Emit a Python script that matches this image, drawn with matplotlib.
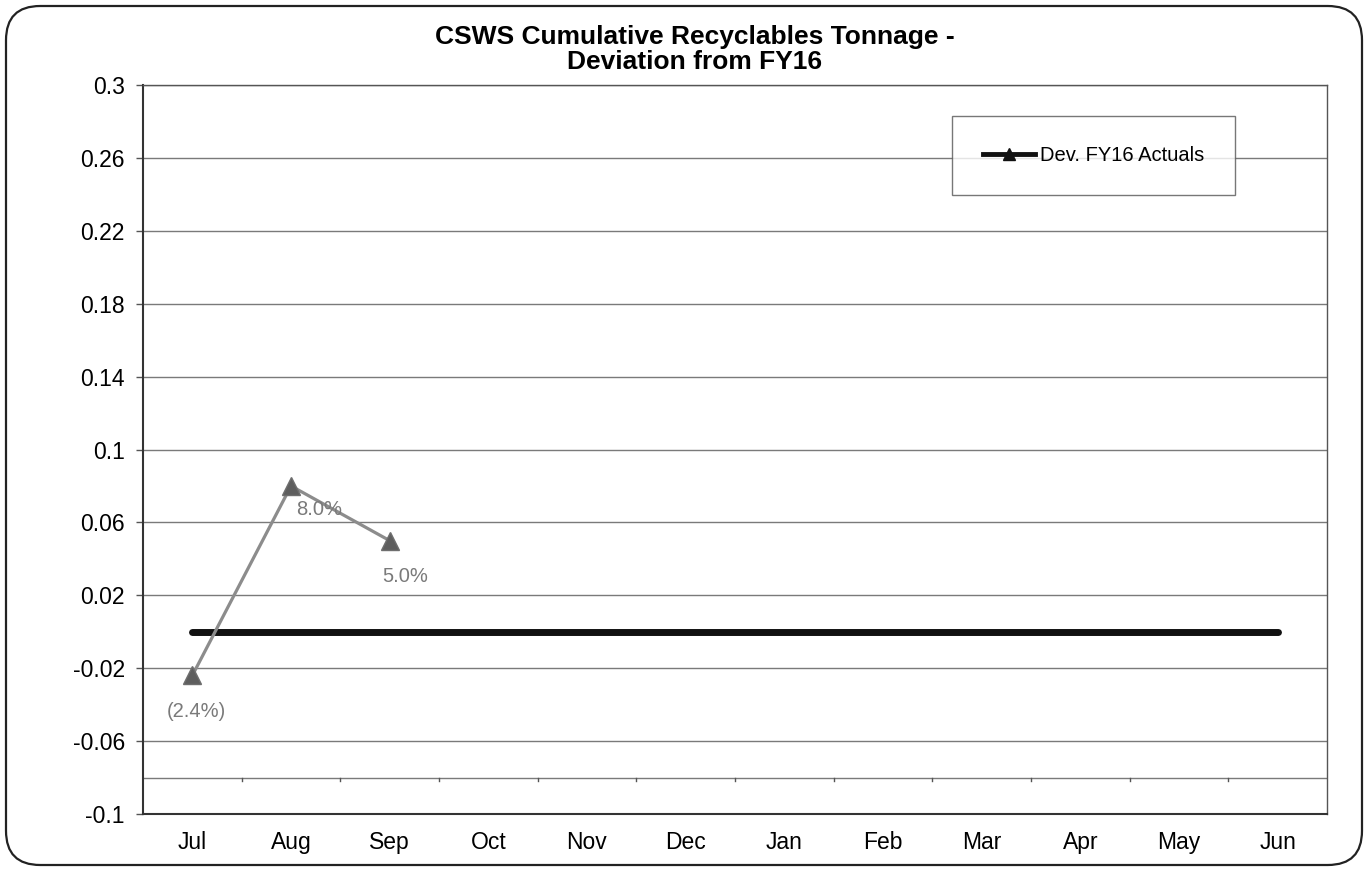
import matplotlib
matplotlib.use("Agg")
import matplotlib.pyplot as plt
from matplotlib.patches import FancyBboxPatch
from matplotlib.lines import Line2D

months = ["Jul", "Aug", "Sep", "Oct", "Nov", "Dec", "Jan", "Feb", "Mar", "Apr", "May", "Jun"]
fy16_dev = [0, 0, 0, 0, 0, 0, 0, 0, 0, 0, 0, 0]
fy17_dev = [-0.024, 0.08, 0.05]
fy17_labels = ["(2.4%)", "8.0%", "5.0%"]
y_ticks = [-0.1, -0.06, -0.02, 0.02, 0.06, 0.1, 0.14, 0.18, 0.22, 0.26, 0.3]
y_tick_labels = ["-0.1", "-0.06", "-0.02", "0.02", "0.06", "0.1", "0.14", "0.18", "0.22", "0.26", "0.3"]
axis_cross = -0.08

plt.rcParams["font.family"] = ["Liberation Sans", "DejaVu Sans"]

W, H = 1368, 871
fig = plt.figure(figsize=(W / 100, H / 100), dpi=100)
fig.patch.set_facecolor("white")

# rounded outer frame
frame = FancyBboxPatch((6 / W, 6 / H), (W - 12) / W, (H - 12) / H,
                       boxstyle="round,pad=0,rounding_size=0.025",
                       transform=fig.transFigure, fill=False,
                       edgecolor="#222222", linewidth=1.6, mutation_aspect=W / H)
fig.patches.append(frame)

left, right, top, bottom = 143, 1327, 85, 814
ax = fig.add_axes([left / W, 1 - bottom / H, (right - left) / W, (bottom - top) / H])
ax.set_xlim(-0.5, len(months) - 0.5)
ax.set_ylim(-0.1, 0.3)

for s in ["top", "right"]:
    ax.spines[s].set_color("#555555")
    ax.spines[s].set_linewidth(1.0)
ax.spines["left"].set_color("#333333")
ax.spines["left"].set_linewidth(1.5)
ax.spines["bottom"].set_color("#333333")
ax.spines["bottom"].set_linewidth(1.5)

# horizontal gridlines
for y in y_ticks[1:]:
    ax.axhline(y, color="#7a7a7a", linewidth=1.0, zorder=1)
ax.axhline(axis_cross, color="#7a7a7a", linewidth=1.0, zorder=1)
# category divider ticks on the crossing line
for i in range(1, len(months)):
    ax.plot([i - 0.5, i - 0.5], [axis_cross, axis_cross - 0.002], color="#555555",
            linewidth=1.0, zorder=1)

ax.set_yticks(y_ticks)
ax.set_yticklabels(y_tick_labels, fontsize=16.5)
ax.tick_params(axis="y", length=5, width=1.0, color="#555555", pad=8)
ax.set_xticks(range(len(months)))
ax.set_xticklabels(months, fontsize=16.5)
ax.tick_params(axis="x", length=0, pad=12)

# FY16 baseline
ax.plot(range(len(months)), fy16_dev, color="#111111", linewidth=5,
        solid_capstyle="round", zorder=3)

# FY17 deviation
ax.plot(range(len(fy17_dev)), fy17_dev, color="#8c8c8c", linewidth=2.3,
        marker="^", markersize=13, markerfacecolor="#5e5e5e",
        markeredgecolor="#6e6e6e", zorder=4)

offsets = [(3, -26), (20, -17), (11.5, -26)]
for i, (v, lab) in enumerate(zip(fy17_dev, fy17_labels)):
    ax.annotate(lab, (i, v), xytext=offsets[i], textcoords="offset points",
                ha="center", va="center", fontsize=14.5, color="#7a7a7a", zorder=5)

fig.text(695 / W, 1 - 37 / H, "CSWS Cumulative Recyclables Tonnage -",
         ha="center", va="center", fontsize=19, fontweight="bold")
fig.text(695 / W, 1 - 62 / H, "Deviation from FY16",
         ha="center", va="center", fontsize=19, fontweight="bold")

# legend
handle = Line2D([], [], color="#111111", linewidth=3.5, marker="^",
                markersize=8, markerfacecolor="#111111")
leg = fig.legend([handle], ["Dev. FY16 Actuals"], loc="center",
                 bbox_to_anchor=((952 + 1235) / 2 / W, 1 - (111 + 200) / 2 / H),
                 frameon=True, fancybox=False, fontsize=14.5, handlelength=2.6,
                 borderpad=1.5, handletextpad=0.25, borderaxespad=0)
leg.get_frame().set_edgecolor("#555555")
leg.get_frame().set_linewidth(1.0)

fig.savefig("out.png", dpi=100, facecolor="white")
